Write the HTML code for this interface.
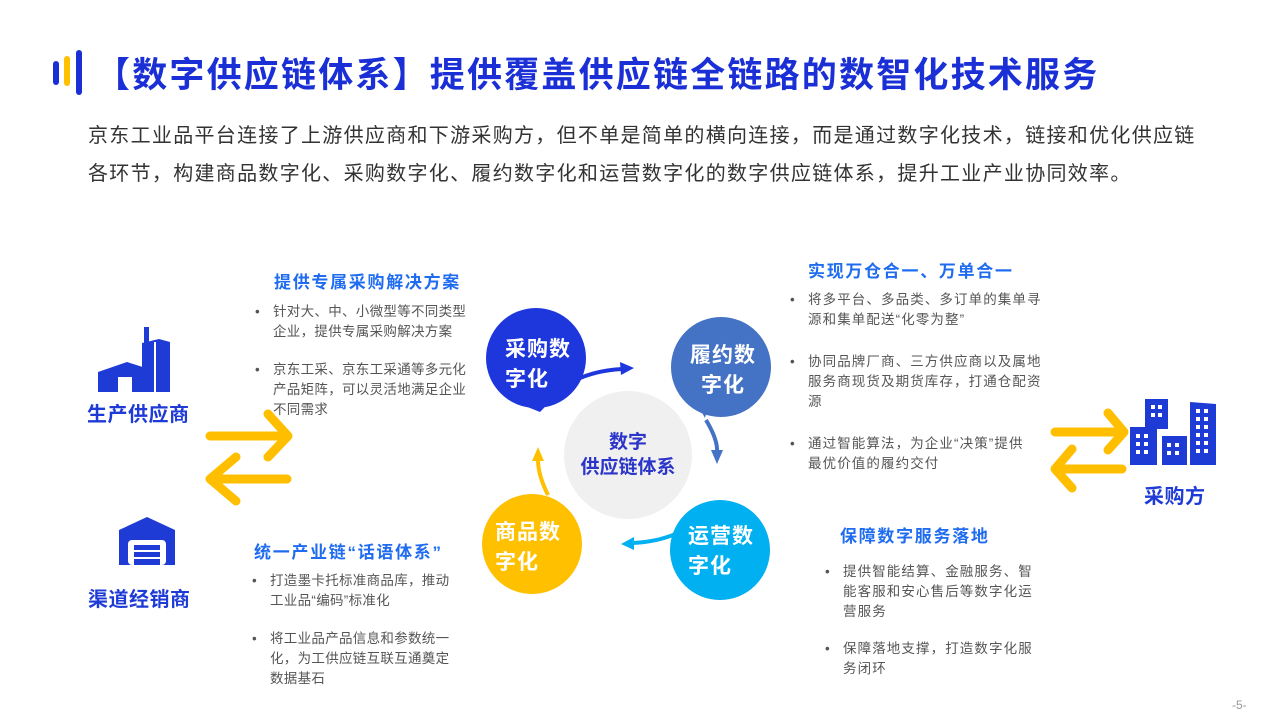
<!DOCTYPE html>
<html><head><meta charset="utf-8"><style>
*{margin:0;padding:0;box-sizing:border-box}
body{width:1280px;height:720px;background:#fff;position:relative;overflow:hidden;font-family:"Liberation Sans","Noto Sans CJK SC",sans-serif}
.a{position:absolute;white-space:nowrap}
.t{left:95px;top:47px;font-size:35px;font-weight:bold;color:#1b2fd6;letter-spacing:2.2px;font-family:"Liberation Sans","Noto Sans CJK SC",sans-serif}
.p{left:88px;font-size:20px;color:#333;letter-spacing:1.3px}
.h{font-size:17px;font-weight:bold;color:#1f6cf0;letter-spacing:1.7px}
.b{font-size:13.5px;color:#555;line-height:20px;letter-spacing:0.3px}
.r{letter-spacing:1.1px}
.b li{list-style:none;position:relative;padding-left:0}
.b li:before{content:"•";position:absolute;left:-18px;color:#555}
.lab{font-size:20px;font-weight:bold;color:#1e3bd6;letter-spacing:0.5px}
.c{font-size:21px;font-weight:bold;color:#fff;line-height:30px;letter-spacing:1px}
</style></head><body>
<div class="a" style="left:53px;top:61px;width:6px;height:24px;border-radius:3px;background:#1b2fd6"></div>
<div class="a" style="left:64px;top:56px;width:6px;height:30px;border-radius:3px;background:#ffc000"></div>
<div class="a" style="left:76px;top:50px;width:6px;height:45px;border-radius:3px;background:#1b2fd6"></div>
<div class="a t">【数字供应链体系】提供覆盖供应链全链路的数智化技术服务</div>
<div class="a p" style="top:119px">京东工业品平台连接了上游供应商和下游采购方，但不单是简单的横向连接，而是通过数字化技术，链接和优化供应链</div>
<div class="a p" style="top:157px">各环节，构建商品数字化、采购数字化、履约数字化和运营数字化的数字供应链体系，提升工业产业协同效率。</div>

<svg class="a" style="left:0;top:0" width="1280" height="720">
<g fill="#1e3bd6">
<path d="M98 372 L127 362 L152 370 L152 392 L98 392Z"/>
<rect x="118" y="377" width="14" height="15" fill="#fff"/>
<path d="M142 343 L159 339 L170 342 L170 392 L142 392Z"/>
<rect x="144" y="327" width="5" height="16"/>
<rect x="154" y="342" width="2" height="50" fill="#fff"/>
<path d="M119 530 L147 517 L175 530 L175 565 L119 565Z"/>
<rect x="128" y="540" width="38" height="25" rx="4" fill="#fff"/>
<rect x="134" y="545" width="26" height="5"/><rect x="134" y="552" width="26" height="5"/><rect x="134" y="559" width="26" height="6"/>
<rect x="1130" y="427" width="27" height="38"/>
<rect x="1145" y="399" width="23" height="30"/>
<rect x="1162" y="436" width="25" height="29"/>
<path d="M1190 402 L1216 404 L1216 465 L1190 465Z"/>
</g>
<g fill="#fff">
<rect x="1151" y="405" width="4" height="4"/><rect x="1158" y="405" width="4" height="4"/><rect x="1151" y="413" width="4" height="4"/><rect x="1158" y="413" width="4" height="4"/>
<rect x="1136" y="434" width="4" height="4"/><rect x="1144" y="434" width="4" height="4"/><rect x="1136" y="442" width="4" height="4"/><rect x="1144" y="442" width="4" height="4"/><rect x="1136" y="450" width="4" height="4"/><rect x="1144" y="450" width="4" height="4"/>
<rect x="1167" y="443" width="4" height="4"/><rect x="1175" y="443" width="4" height="4"/><rect x="1167" y="451" width="4" height="4"/><rect x="1175" y="451" width="4" height="4"/>
<rect x="1196" y="409" width="4" height="4"/><rect x="1204" y="409" width="4" height="4"/><rect x="1196" y="417" width="4" height="4"/><rect x="1204" y="417" width="4" height="4"/><rect x="1196" y="425" width="4" height="4"/><rect x="1204" y="425" width="4" height="4"/><rect x="1196" y="433" width="4" height="4"/><rect x="1204" y="433" width="4" height="4"/><rect x="1196" y="441" width="4" height="4"/><rect x="1204" y="441" width="4" height="4"/><rect x="1196" y="449" width="4" height="4"/><rect x="1204" y="449" width="4" height="4"/>
</g>
<g stroke="#ffbf00" stroke-width="9" stroke-linecap="round" stroke-linejoin="round" fill="none">
<path d="M210 436 L287 436 M268 414 L288 436 L268 457"/>
<path d="M210 479 L287 479 M236 457 L210 479 L236 501"/>
<path d="M1055 432 L1122 432 M1108 413 L1124 432 L1108 450"/>
<path d="M1055 469 L1122 469 M1072 449 L1055 469 L1072 488"/>
</g>
<circle cx="628" cy="455" r="64" fill="#f0f0f0"/>
<circle cx="536" cy="358" r="50" fill="#1e37dc"/>
<path d="M510 400 L540 412 L566 385Z" fill="#1e37dc"/>
<circle cx="721" cy="367" r="50" fill="#4472c4"/>
<path d="M673 360 L705 418 L715 380Z" fill="#4472c4"/>
<circle cx="720" cy="550" r="50" fill="#00b0f0"/>
<path d="M672 540 L680 530 L700 520 L690 560Z" fill="#00b0f0"/>
<circle cx="532" cy="544" r="50" fill="#ffc000"/>
<path d="M548 495 L578 550 L560 510Z" fill="#ffc000"/>
<g fill="none" stroke-width="4">
<path d="M545 405 Q570 372 622 369" stroke="#1e37dc"/>
<path d="M706 420 Q718 440 717 452" stroke="#4472c4"/>
<path d="M682 531 Q660 542 632 543" stroke="#00b0f0"/>
<path d="M548 495 Q538 475 538 460" stroke="#ffc000"/>
</g>
<path d="M634 368 L620 362 L621 375Z" fill="#1e37dc"/>
<path d="M717 464 L711 450 L723 450Z" fill="#4472c4"/>
<path d="M621 544 L634 537 L634 550Z" fill="#00b0f0"/>
<path d="M538 447 L532 461 L544 461Z" fill="#ffc000"/>
</svg>

<div class="a c" style="left:505px;top:335px">采购数<br>字化</div>
<div class="a c" style="left:687px;top:341px;width:72px;text-align:center">履约数<br>字化</div>
<div class="a c" style="left:688px;top:522px">运营数<br>字化</div>
<div class="a c" style="left:495px;top:518px">商品数<br>字化</div>
<div class="a" style="left:560px;top:430px;width:136px;text-align:center;font-size:19px;font-weight:bold;color:#2b35c8;line-height:25px">数字<br>供应链体系</div>

<div class="a lab" style="left:87px;top:398px">生产供应商</div>
<div class="a lab" style="left:88px;top:583px">渠道经销商</div>
<div class="a lab" style="left:1144px;top:480px">采购方</div>

<div class="a h" style="left:274px;top:268px">提供专属采购解决方案</div>
<ul class="a b" style="left:273px;top:302px">
<li>针对大、中、小微型等不同类型<br>企业，提供专属采购解决方案</li>
<li style="margin-top:18px">京东工采、京东工采通等多元化<br>产品矩阵，可以灵活地满足企业<br>不同需求</li>
</ul>
<div class="a h" style="left:254px;top:538px">统一产业链“话语体系”</div>
<ul class="a b" style="left:270px;top:571px">
<li>打造墨卡托标准商品库，推动<br>工业品“编码”标准化</li>
<li style="margin-top:18px">将工业品产品信息和参数统一<br>化，为工供应链互联互通奠定<br>数据基石</li>
</ul>
<div class="a h" style="left:808px;top:257px">实现万仓合一、万单合一</div>
<ul class="a b r" style="left:808px;top:290px">
<li>将多平台、多品类、多订单的集单寻<br>源和集单配送“化零为整”</li>
<li style="margin-top:22px">协同品牌厂商、三方供应商以及属地<br>服务商现货及期货库存，打通仓配资<br>源</li>
<li style="margin-top:22px">通过智能算法，为企业“决策”提供<br>最优价值的履约交付</li>
</ul>
<div class="a h" style="left:840px;top:522px">保障数字服务落地</div>
<ul class="a b r" style="left:843px;top:562px">
<li>提供智能结算、金融服务、智<br>能客服和安心售后等数字化运<br>营服务</li>
<li style="margin-top:17px">保障落地支撑，打造数字化服<br>务闭环</li>
</ul>
<div class="a" style="left:1232px;top:698px;font-size:12px;color:#999">-5-</div>
</body></html>
